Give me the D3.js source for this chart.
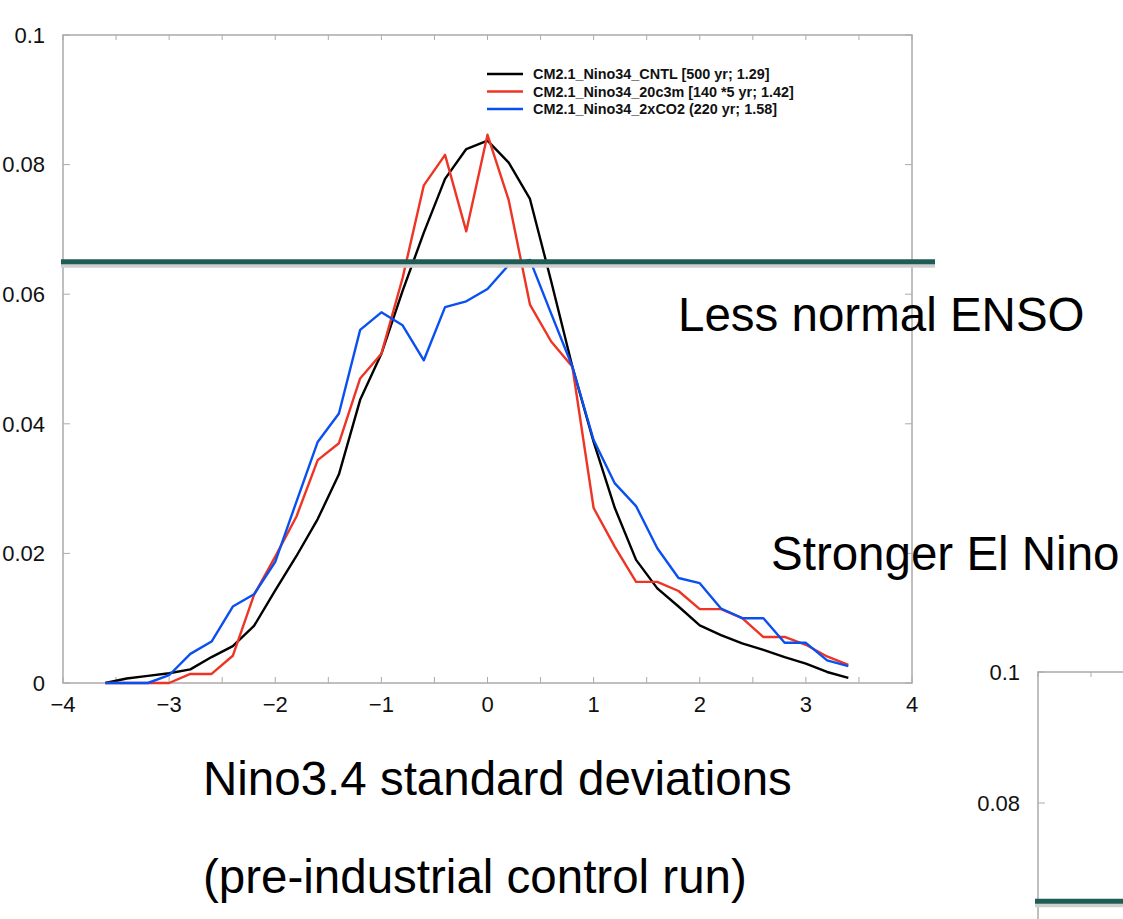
<!DOCTYPE html>
<html>
<head>
<meta charset="utf-8">
<script src="https://cdn.jsdelivr.net/npm/d3@7"></script>
<style>
  html, body { margin: 0; padding: 0; background: #fff; }
  svg { display: block; font-family: "Liberation Sans", Arial, Helvetica, sans-serif; }
</style>
</head>
<body>
<svg id="chart" width="1123" height="919"></svg>
<script>
// bin centres (Nino3.4 standard deviations)
const bins = [-3.6, -3.4, -3.2, -3.0, -2.8, -2.6, -2.4, -2.2, -2.0, -1.8, -1.6, -1.4,
  -1.2, -1.0, -0.8, -0.6, -0.4, -0.2, 0.0, 0.2, 0.4, 0.6, 0.8, 1.0,
  1.2, 1.4, 1.6, 1.8, 2.0, 2.2, 2.4, 2.6, 2.8, 3.0, 3.2, 3.4];

const cntl = [0, 0.0007, 0.0011, 0.0015, 0.0021, 0.0040, 0.0057, 0.0088, 0.0143, 0.0196, 0.0253, 0.0322,
  0.0437, 0.0508, 0.0605, 0.0695, 0.0778, 0.0824, 0.0837, 0.0803, 0.0747, 0.0620, 0.0488, 0.0372,
  0.0270, 0.0190, 0.0146, 0.0118, 0.0089, 0.0074, 0.0061, 0.0051, 0.0040, 0.0030, 0.0017, 0.0008];

const c20 = [0, 0, 0, 0, 0.0014, 0.0014, 0.0042, 0.0136, 0.0195, 0.0257, 0.0344, 0.0370,
  0.0470, 0.0508, 0.0625, 0.0768, 0.0815, 0.0697, 0.0846, 0.0745, 0.0584, 0.0527, 0.0488, 0.0270,
  0.0210, 0.0156, 0.0156, 0.0142, 0.0114, 0.0114, 0.0100, 0.0071, 0.0071, 0.0059, 0.0041, 0.0028];

const co2 = [0, 0, 0, 0.0012, 0.0045, 0.0064, 0.0118, 0.0137, 0.0187, 0.0280, 0.0372, 0.0416,
  0.0545, 0.0572, 0.0552, 0.0498, 0.0580, 0.0589, 0.0608, 0.0645, 0.0653, 0.0570, 0.0488, 0.0375,
  0.0308, 0.0273, 0.0208, 0.0162, 0.0154, 0.0115, 0.0100, 0.0100, 0.0062, 0.0062, 0.0035, 0.0026];

const seriesNames = ["CM2.1_Nino34_CNTL [500 yr; 1.29]", "CM2.1_Nino34_20c3m [140 *5 yr; 1.42]", "CM2.1_Nino34_2xCO2 (220 yr; 1.58]"];
const seriesColors = ["#000000", "#ee3424", "#0a50f0"];

const xTicks = [-4, -3, -2, -1, 0, 1, 2, 3, 4];
const yTicks = [0, 0.02, 0.04, 0.06, 0.08, 0.1];
const threshold = 0.065;

const notes = ["Less normal ENSO", "Stronger El Nino", "Nino3.4 standard deviations", "(pre-industrial control run)"];

(function() {
  const W = 1123, H = 919;
  const svg = d3.select("#chart");
  const FRAME = "#ababab";
  const TEAL = "#1f5c55";

  svg.append("rect").attr("width", W).attr("height", H).attr("fill", "#fff");

  const x = d3.scaleLinear().domain([-4, 4]).range([63, 912]);
  const y = d3.scaleLinear().domain([0, 0.1]).range([683, 35]);

  const fmtY = d => d === 0 ? "0" : d3.format("~g")(d);

  function frame(g, xs, ys) {
    const [x0, x1] = xs.range();
    const [y0, y1] = ys.range();
    const minor = d3.range(xs.domain()[0], xs.domain()[1] + 0.01, 0.5);

    g.append("g").selectAll("line")
      .data(minor)
      .join("line")
      .attr("x1", d => xs(d)).attr("x2", d => xs(d))
      .attr("y1", y0).attr("y2", y0 - 6)
      .attr("stroke", FRAME).attr("stroke-width", 1);
    g.append("g").selectAll("line")
      .data(minor)
      .join("line")
      .attr("x1", d => xs(d)).attr("x2", d => xs(d))
      .attr("y1", y1).attr("y2", y1 + 5)
      .attr("stroke", FRAME).attr("stroke-width", 1);
    g.append("g").selectAll("line")
      .data(yTicks)
      .join("line")
      .attr("x1", x0).attr("x2", x0 + 7)
      .attr("y1", d => ys(d)).attr("y2", d => ys(d))
      .attr("stroke", FRAME).attr("stroke-width", 1);
    g.append("g").selectAll("line")
      .data(yTicks)
      .join("line")
      .attr("x1", x1).attr("x2", x1 - 7)
      .attr("y1", d => ys(d)).attr("y2", d => ys(d))
      .attr("stroke", FRAME).attr("stroke-width", 1);
    g.append("rect")
      .attr("x", x0).attr("y", y1)
      .attr("width", x1 - x0).attr("height", y0 - y1)
      .attr("fill", "none")
      .attr("stroke", FRAME).attr("stroke-width", 1.5);

    // only labels that land inside the picture
    g.append("g").selectAll("text")
      .data(yTicks.filter(d => ys(d) < H - 12))
      .join("text")
      .attr("x", x0 - 18)
      .attr("y", d => ys(d))
      .attr("dy", "0.35em")
      .attr("text-anchor", "end")
      .attr("font-size", 22)
      .attr("fill", "#111")
      .text(fmtY);
  }

  // main panel
  const main = svg.append("g");
  frame(main, x, y);

  main.append("g").selectAll("text")
    .data(xTicks)
    .join("text")
    .attr("x", d => x(d))
    .attr("y", 712)
    .attr("text-anchor", "middle")
    .attr("font-size", 22)
    .attr("fill", "#111")
    .text(d => d < 0 ? "\u2212" + Math.abs(d) : d);

  const line = d3.line()
    .x((d, i) => x(bins[i]))
    .y(d => y(d));

  [cntl, c20, co2].forEach((vals, k) => {
    main.append("path")
      .attr("d", line(vals))
      .attr("fill", "none")
      .attr("stroke", seriesColors[k])
      .attr("stroke-width", 2.4)
      .attr("stroke-linejoin", "round");
  });

  // legend
  const legend = main.append("g").attr("transform", "translate(487, 74)");
  seriesNames.forEach((name, k) => {
    const row = legend.append("g").attr("transform", `translate(0, ${k * 17.5})`);
    row.append("line")
      .attr("x1", 0).attr("x2", 36)
      .attr("stroke", seriesColors[k]).attr("stroke-width", 2.4);
    row.append("text")
      .attr("x", 46).attr("dy", "0.35em")
      .attr("font-size", 14.4).attr("font-weight", "bold")
      .attr("fill", "#111")
      .text(name);
  });

  // threshold line with drop shadow
  function band(x0, x1, yy) {
    svg.append("line")
      .attr("x1", x0).attr("x2", x1)
      .attr("y1", yy + 4).attr("y2", yy + 4)
      .attr("stroke", "#cfcfcf").attr("stroke-width", 4);
    svg.append("line")
      .attr("x1", x0).attr("x2", x1)
      .attr("y1", yy).attr("y2", yy)
      .attr("stroke", TEAL).attr("stroke-width", 5);
  }
  band(61, 935, y(threshold));

  // second panel peeking in at bottom right
  const x2 = d3.scaleLinear().domain([-4, 4]).range([1038, 1038 + 8 * 106]);
  const y2 = d3.scaleLinear().domain([0, 0.1]).range([672 + 5 * 131, 672]);
  const second = svg.append("g");
  frame(second, x2, y2);
  band(1035, 1123, y2(threshold));

  // annotations
  const ann = [
    { t: notes[0], x: 678, y: 331 },
    { t: notes[1], x: 771, y: 570 },
    { t: notes[2], x: 203, y: 795 },
    { t: notes[3], x: 203, y: 893 }
  ];
  svg.append("g").selectAll("text")
    .data(ann)
    .join("text")
    .attr("x", d => d.x).attr("y", d => d.y)
    .attr("font-size", 47.5)
    .attr("fill", "#000")
    .text(d => d.t);
})();
</script>
</body>
</html>
